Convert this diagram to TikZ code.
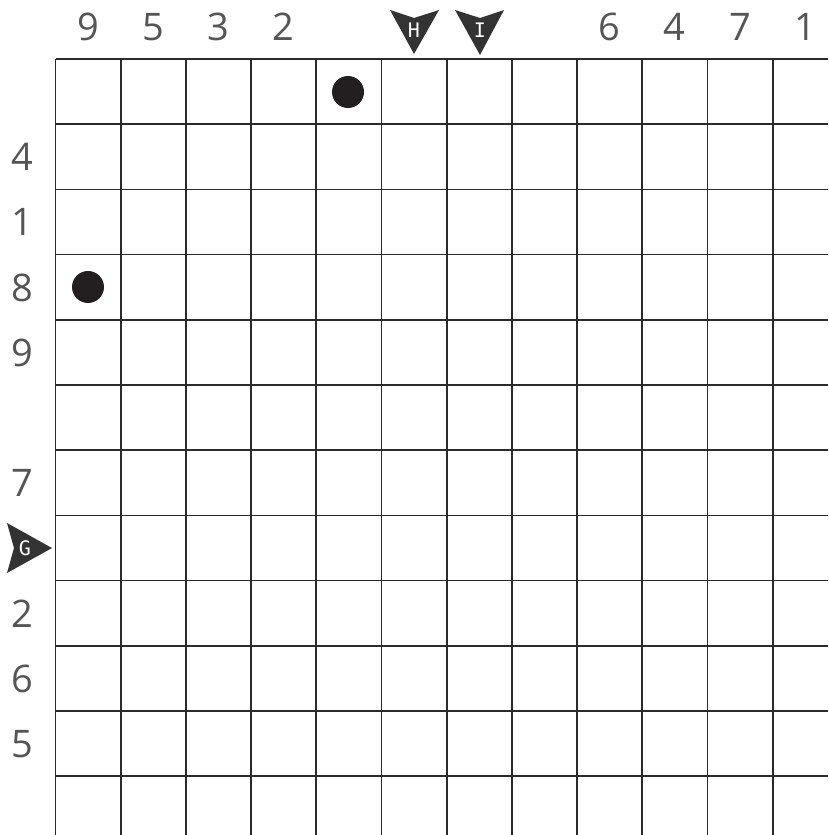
\documentclass[tikz,border=0pt]{standalone}
\usepackage{fontspec}
\setmainfont{Open Sans}
\newfontfamily\markfont{DejaVu Sans Mono}
\definecolor{gridc}{HTML}{2B2B2B}
\definecolor{labc}{HTML}{555555}
\definecolor{markc}{HTML}{333333}
\definecolor{dotc}{HTML}{231F20}
\begin{document}
\begin{tikzpicture}[x=1pt,y=-1pt,
  lab/.style={text=labc,font=\fontsize{38}{44}\selectfont,inner sep=0pt,anchor=center},
  mk/.style={text=white,font=\markfont\fontsize{20}{24}\selectfont,inner sep=0pt},
  gridline/.style={draw=gridc,line width=1.7pt},
  dot/.style={circle,fill=dotc,minimum size=32pt,inner sep=0pt}]
\useasboundingbox[fill=white] (0,0) rectangle (828,835);
% grid
\foreach \i in {0,...,11}{
  \draw[gridline] ({55.5+65.2*\i},59) -- ({55.5+65.2*\i},835);
  \draw[gridline] (55.5,{59+65.2*\i}) -- (828,{59+65.2*\i});
}
% column labels
\foreach \c/\t in {0/9,1/5,2/3,3/2,8/6,9/4,10/7,11/1}{
  \node[lab] (c\c) at ({88+65.2*\c},27) {\t};
}
% row labels
\foreach \r/\t in {1/4,2/1,3/8,4/9,6/7,8/2,9/6,10/5}{
  \node[lab] (r\r) at (22,{92+65.2*\r}) {\t};
}
% markers
\fill[markc] (390,10) -- (414,18) -- (439,10) -- (414,54) -- cycle;
\node[mk] (H) at (414,30) {H};
\fill[markc] (455,10) -- (480,18) -- (504,10) -- (480,55) -- cycle;
\node[mk] (I) at (480,30) {I};
\fill[markc] (7,523) -- (14,548) -- (7,573) -- (52,548) -- cycle;
\node[mk] (G) at (25,548) {G};
% dots
\node[dot] (d1) at (348,92) {};
\node[dot] (d2) at (88,287) {};
\end{tikzpicture}
\end{document}
